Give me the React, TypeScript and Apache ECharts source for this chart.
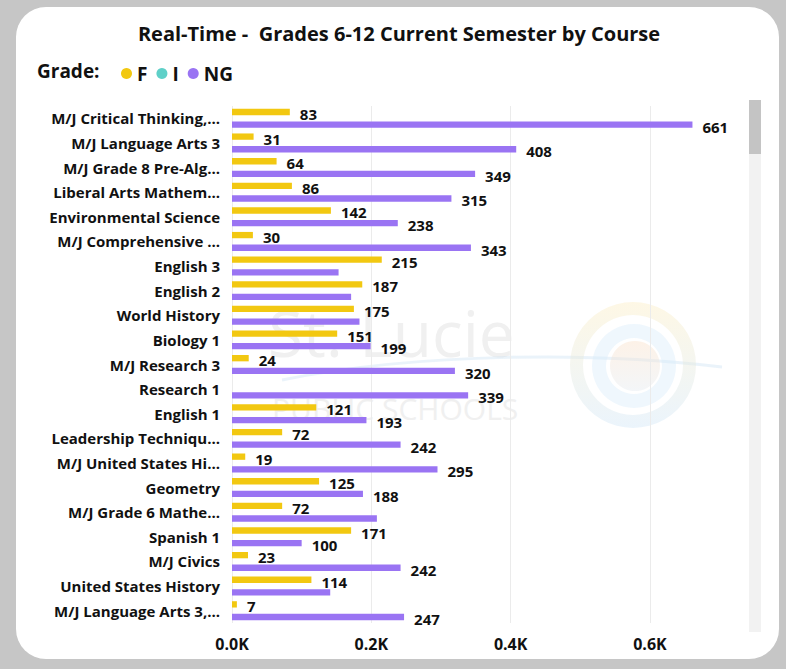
import React, { useEffect, useRef } from "react";
import * as echarts from "echarts";

const categories = [
  "M/J Critical Thinking,...",
  "M/J Language Arts 3",
  "M/J Grade 8 Pre-Alg...",
  "Liberal Arts Mathem...",
  "Environmental Science",
  "M/J Comprehensive ...",
  "English 3",
  "English 2",
  "World History",
  "Biology 1",
  "M/J Research 3",
  "Research 1",
  "English 1",
  "Leadership Techniqu...",
  "M/J United States Hi...",
  "Geometry",
  "M/J Grade 6 Mathe...",
  "Spanish 1",
  "M/J Civics",
  "United States History",
  "M/J Language Arts 3,...",
];

const fValues: (number | null)[] = [83, 31, 64, 86, 142, 30, 215, 187, 175, 151, 24, null, 121, 72, 19, 125, 72, 171, 23, 114, 7];
const iValues: (number | null)[] = [];
const ngValues: number[] = [661, 408, 349, 315, 238, 343, 153, 171, 183, 199, 320, 339, 193, 242, 295, 188, 208, 100, 242, 141, 247];
// NG bars whose value label is not displayed in the reference
const ngUnlabeled = ["English 3", "English 2", "World History", "M/J Grade 6 Mathe...", "United States History"];

const xTicks = [0, 200, 400, 600];

const FONT = "'Open Sans', 'Noto Sans', sans-serif";
const YELLOW = "#F2C811";
const TEAL = "#5FD0C8";
const PURPLE = "#9A74F3";
const INK = "#111111";

export default function App() {
  const ref = useRef<HTMLDivElement>(null);

  useEffect(() => {
    if (!ref.current) return;
    const chart = echarts.init(ref.current, undefined, { renderer: "svg" });

    const labelStyle = {
      show: true,
      position: "right" as const,
      distance: 10,
      offset: [0, 2],
      fontFamily: FONT,
      fontWeight: "bold" as const,
      fontSize: 15,
      color: INK,
    };

    chart.setOption({
      animation: false,
      backgroundColor: "transparent",
      textStyle: { fontFamily: FONT },
      legend: {
        data: ["F", "I", "NG"],
        left: 116,
        top: 59,
        icon: "circle",
        itemWidth: 11,
        itemHeight: 11,
        itemGap: 9,
        textStyle: { fontFamily: FONT, fontWeight: "bold", fontSize: 19, color: INK },
      },
      grid: { left: 232, right: 42, top: 106, bottom: 46, containLabel: false },
      xAxis: {
        type: "value",
        min: 0,
        max: 735,
        interval: 200,
        axisLine: { show: false },
        axisTick: { show: false },
        splitLine: { show: true, showMaxLine: false, lineStyle: { color: "#ebebeb", width: 1 } },
        axisLabel: {
          showMaxLabel: false,
          margin: 13,
          fontFamily: FONT,
          fontWeight: "bold",
          fontSize: 16,
          color: INK,
          formatter: (v: number) => (xTicks.includes(v) ? (v / 1000).toFixed(1) + "K" : ""),
        },
      },
      yAxis: {
        type: "category",
        data: categories,
        inverse: true,
        axisLine: { show: false },
        axisTick: { show: false },
        splitLine: { show: false },
        axisLabel: {
          margin: 12,
          fontFamily: FONT,
          fontWeight: "bold",
          fontSize: 15,
          color: INK,
        },
      },
      series: [
        {
          name: "F",
          type: "bar",
          data: fValues,
          itemStyle: { color: YELLOW },
          barGap: "0%",
          barCategoryGap: "23%",
          label: labelStyle,
          z: 3,
        },
        {
          name: "I",
          type: "bar",
          data: iValues,
          itemStyle: { color: TEAL },
          barGap: "0%",
          barCategoryGap: "23%",
          label: labelStyle,
          z: 3,
        },
        {
          name: "NG",
          type: "bar",
          data: ngValues.map((v, i) => ({
            value: v,
            label: { show: !ngUnlabeled.includes(categories[i]) },
          })),
          itemStyle: { color: PURPLE },
          barGap: "0%",
          barCategoryGap: "23%",
          label: labelStyle,
          z: 3,
        },
      ],
      graphic: [
        // watermark
        {
          type: "text",
          x: 268,
          y: 332,
          z: -5,
          silent: true,
          style: {
            text: "St. Lucie",
            fontFamily: FONT,
            fontSize: 64,
            fill: "#f0f0f0",
            verticalAlign: "middle",
          },
        },
        {
          type: "text",
          x: 272,
          y: 408,
          z: -5,
          silent: true,
          style: {
            text: "PUBLIC SCHOOLS",
            fontFamily: FONT,
            fontSize: 30,
            fill: "#f0f0f0",
            verticalAlign: "middle",
          },
        },
        {
          type: "bezierCurve",
          z: -5,
          silent: true,
          shape: { x1: 282, y1: 380, cpx1: 420, cpy1: 352, cpx2: 600, cpy2: 352, x2: 722, y2: 367 },
          style: { stroke: "rgba(195,220,242,0.35)", lineWidth: 3, fill: null },
        },
        {
          type: "ring",
          z: -5,
          silent: true,
          shape: { cx: 633, cy: 365, r: 63, r0: 50 },
          style: {
            fill: new echarts.graphic.LinearGradient(0, 0, 0, 1, [
              { offset: 0, color: "rgba(252,236,190,0.4)" },
              { offset: 1, color: "rgba(205,228,247,0.4)" },
            ]),
          },
        },
        {
          type: "ring",
          z: -5,
          silent: true,
          shape: { cx: 634, cy: 366, r: 42, r0: 28 },
          style: { fill: "rgba(215,234,249,0.4)" },
        },
        {
          type: "circle",
          z: -5,
          silent: true,
          shape: { cx: 635, cy: 366, r: 25 },
          style: {
            fill: new echarts.graphic.LinearGradient(0, 0, 0, 1, [
              { offset: 0, color: "rgba(250,222,196,0.4)" },
              { offset: 1, color: "rgba(226,232,238,0.4)" },
            ]),
          },
        },
        // title
        {
          type: "text",
          x: 399,
          y: 33,
          style: {
            text: "Real-Time -  Grades 6-12 Current Semester by Course",
            fontFamily: FONT,
            fontWeight: "bold",
            fontSize: 20,
            fill: INK,
            align: "center",
            verticalAlign: "middle",
          },
        },
        {
          type: "text",
          x: 37,
          y: 71,
          style: {
            text: "Grade:",
            fontFamily: FONT,
            fontWeight: "bold",
            fontSize: 19,
            fill: INK,
            verticalAlign: "middle",
          },
        },
        // scrollbar
        {
          type: "rect",
          shape: { x: 749, y: 100, width: 12, height: 532 },
          style: { fill: "#f2f2f2" },
        },
        {
          type: "rect",
          shape: { x: 749, y: 100, width: 12, height: 54 },
          style: { fill: "#c4c4c4" },
        },
      ],
    });

    return () => chart.dispose();
  }, []);

  return (
    <div style={{ position: "fixed", left: 0, top: 0, width: 786, height: 669, background: "#c6c6c6", overflow: "hidden" }}>
      <div
        style={{
          position: "absolute",
          left: 16,
          top: 7,
          width: 763,
          height: 652,
          background: "#ffffff",
          borderRadius: 30,
        }}
      />
      <div ref={ref} style={{ position: "absolute", left: 0, top: 0, width: 786, height: 669 }} />
    </div>
  );
}
